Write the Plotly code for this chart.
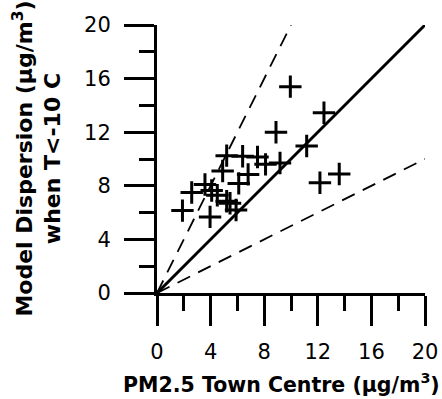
import plotly.graph_objects as go

# PM2.5 at the town centre monitor vs. model dispersion estimate (µg/m³), T < -10 °C
town_centre = [9.95, 12.46, 8.88, 11.17, 5.2, 6.39, 7.5, 8.1, 9.18, 4.9, 6.8, 6.1,
               3.58, 2.59, 4.08, 4.5, 5.2, 5.45, 5.9, 1.9, 3.96, 12.16, 13.6]
model_disp = [15.4, 13.45, 12.0, 10.97, 10.25, 10.2, 10.15, 9.6, 9.7, 9.1, 8.85, 8.18,
              8.1, 7.5, 7.65, 7.3, 6.85, 6.7, 6.19, 6.15, 5.68, 8.23, 8.88]

# reference lines: 1:1 and factor-of-two bounds
ref_x = [0, 20]
one_to_one = [0, 20]
upper_x = [0, 10]
upper_y = [0, 20]
lower_x = [0, 20]
lower_y = [0, 10]

FONT = "DejaVu Sans, Arial, sans-serif"

fig = go.Figure()
for xs, ys in ((upper_x, upper_y), (lower_x, lower_y)):
    fig.add_trace(go.Scatter(x=xs, y=ys, mode="lines",
                             line=dict(color="black", width=1.8, dash="14px,9px"),
                             hoverinfo="skip", showlegend=False))
fig.add_trace(go.Scatter(x=ref_x, y=one_to_one, mode="lines",
                         line=dict(color="black", width=3),
                         hoverinfo="skip", showlegend=False))
fig.add_trace(go.Scatter(x=town_centre, y=model_disp, mode="markers",
                         marker=dict(symbol="cross-thin", size=16,
                                     line=dict(color="black", width=3)),
                         showlegend=False))

axis_common = dict(
    range=[0, 20], dtick=4, tick0=0, ticks="outside", ticklen=30, tickwidth=3,
    tickcolor="black", showline=True, linecolor="black", linewidth=3,
    showgrid=False, zeroline=False, automargin=False,
    tickfont=dict(family=FONT, size=21, color="black"),
    minor=dict(dtick=2, ticks="outside", ticklen=15, tickwidth=3,
               tickcolor="black", showgrid=False),
)

fig.update_xaxes(**axis_common, ticklabelstandoff=8)
fig.update_yaxes(**axis_common, ticklabelstandoff=9)

fig.update_layout(
    width=442, height=399,
    margin=dict(l=157, r=17, t=25, b=106, autoexpand=False),
    plot_bgcolor="white", paper_bgcolor="white",
    annotations=[
        dict(text="<b>PM2.5 Town Centre (µg/m<sup>3</sup>)</b>",
             xref="paper", yref="paper", x=0.463, y=-0.395,
             xanchor="center", yanchor="bottom", showarrow=False,
             font=dict(family=FONT, size=20.5, color="black")),
        dict(text="<b>Model Dispersion (µg/m<sup>3</sup>)<br>when T<-10 C</b>",
             xref="paper", yref="paper", x=-0.563, y=0.5, textangle=-90,
             xanchor="left", yanchor="middle", showarrow=False,
             font=dict(family=FONT, size=22, color="black")),
    ],
)

fig.write_html("out.html")
